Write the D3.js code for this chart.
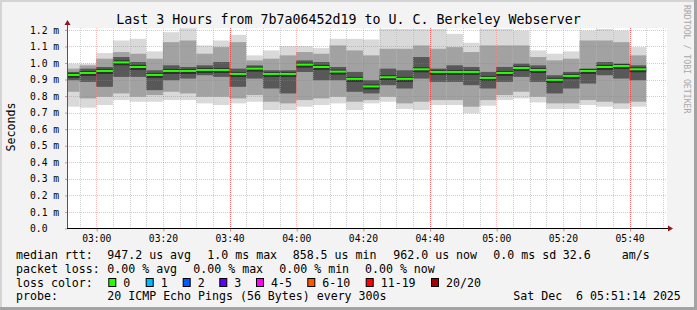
<!DOCTYPE html>
<html><head><meta charset="utf-8">
<script src="https://cdn.jsdelivr.net/npm/d3@7"></script>
<style>
html,body{margin:0;padding:0;background:#f3f3f3;}
svg{display:block;}
text{font-family:"DejaVu Sans Mono",monospace;fill:#000;}
</style></head>
<body>
<svg id="c" width="697" height="310"></svg>
<script>
// ---- data ----
const times = ["02:55","03:00","03:05","03:10","03:15","03:20","03:25","03:30","03:35","03:40",
  "03:45","03:50","03:55","04:00","04:05","04:10","04:15","04:20","04:25","04:30",
  "04:35","04:40","04:45","04:50","04:55","05:00","05:05","05:10","05:15","05:20",
  "05:25","05:30","05:35","05:40","05:45"];
const median = [0.928,0.940,0.952,1.004,0.976,0.928,0.952,0.952,0.958,0.958,
  0.934,0.966,0.934,0.934,0.990,0.976,0.948,0.904,0.8585,0.914,
  0.904,0.962,0.946,0.946,0.946,0.910,0.940,0.970,0.958,0.898,
  0.922,0.952,0.976,0.982,0.962];
const pingMin = [0.736,0.730,0.746,0.776,0.766,0.766,0.776,0.776,0.756,0.746,
  0.756,0.766,0.716,0.716,0.736,0.746,0.756,0.716,0.756,0.766,
  0.722,0.716,0.746,0.746,0.696,0.742,0.776,0.786,0.762,0.722,
  0.722,0.746,0.736,0.722,0.736];
const lowMid = [0.826,0.786,0.796,0.816,0.796,0.806,0.826,0.816,0.796,0.796,
  0.786,0.806,0.766,0.756,0.776,0.786,0.796,0.766,0.776,0.796,
  0.756,0.766,0.776,0.776,0.736,0.776,0.806,0.826,0.796,0.756,
  0.756,0.776,0.766,0.756,0.766];
const lowInner = [0.896,0.886,0.856,0.916,0.916,0.836,0.896,0.906,0.926,0.916,
  0.856,0.906,0.846,0.816,0.946,0.896,0.896,0.826,0.816,0.866,
  0.846,0.906,0.886,0.886,0.866,0.846,0.886,0.916,0.886,0.816,
  0.846,0.876,0.926,0.906,0.896];
const highInner = [0.946,0.966,0.976,1.036,1.006,0.956,0.986,0.976,0.986,1.006,
  0.966,0.986,0.956,0.956,1.016,1.006,0.976,0.946,0.896,0.966,
  0.956,1.036,0.966,0.986,0.976,0.946,0.976,0.996,0.986,0.926,
  0.946,0.966,1.006,0.996,0.986];
const highMid = [0.966,0.986,1.026,1.066,1.056,1.026,1.126,1.136,1.056,1.096,
  1.126,1.016,1.026,1.046,1.066,1.056,1.106,1.076,1.046,1.086,
  1.086,1.106,1.086,1.096,1.066,1.106,1.106,1.106,1.036,1.016,
  1.026,1.136,1.136,1.126,1.046];
const pingMax = [0.996,0.996,1.060,1.136,1.146,1.070,1.186,1.210,1.106,1.136,
  1.170,1.046,1.076,1.102,1.102,1.090,1.146,1.146,1.142,1.206,
  1.206,1.206,1.206,1.176,1.122,1.206,1.206,1.196,1.076,1.056,
  1.070,1.196,1.206,1.196,1.096];
const yTicks = [0,0.1,0.2,0.3,0.4,0.5,0.6,0.7,0.8,0.9,1.0,1.1,1.2];
const hourLines = ["03:40","04:40","05:40"];
const lossLabels = ["0","1","2","3","4-5","6-10","11-19","20/20"];
const lossColors = ["#26ff00","#00b8ff","#0059ff","#5e00ff","#ff00ff","#ff5500","#ff0000","#a10000"];
const title = "Last 3 Hours from 7b7a06452d19 to U. C. Berkeley Webserver";

// ---- layout ----
const svg = d3.select("#c");
const L=67, R=667, T=28, B=228.5;
const tStart = new Date(Date.UTC(2025,11,6,2,51,14));
const tEnd = new Date(Date.UTC(2025,11,6,5,51,14));
const x = d3.scaleUtc().domain([tStart,tEnd]).range([L,R]);
const y = d3.scaleLinear().domain([0,1.2]).range([B,29.9]);
const parseT = s => { const [h,m]=s.split(":").map(Number); return new Date(Date.UTC(2025,11,6,h,m,0)); };

// frame
svg.append("rect").attr("x",0).attr("y",0).attr("width",697).attr("height",310).attr("fill","#f3f3f3");
svg.append("rect").attr("x",0).attr("y",0).attr("width",697).attr("height",2).attr("fill","#d4d4d4");
svg.append("rect").attr("x",0).attr("y",0).attr("width",2).attr("height",310).attr("fill","#d4d4d4");
svg.append("rect").attr("x",694).attr("y",0).attr("width",3).attr("height",310).attr("fill","#a3a3a3");
svg.append("rect").attr("x",0).attr("y",307).attr("width",697).attr("height",3).attr("fill","#a3a3a3");

// plot background
svg.append("rect").attr("x",L).attr("y",T).attr("width",R-L).attr("height",B-T).attr("fill","#ffffff");

svg.append("defs").append("clipPath").attr("id","clip")
  .append("rect").attr("x",L).attr("y",T-1).attr("width",R-L).attr("height",B-T+1);
const gData = svg.append("g").attr("clip-path","url(#clip)");

const bars = times.map((s,i)=>({t:parseT(s),i}));
const bx0 = d => Math.max(L, x(new Date(d.t.getTime()-300000)));
const bx1 = d => x(d.t);

const layers = [
  {lo:pingMin, hi:pingMax, c:"#d9d9d9"},
  {lo:lowMid, hi:highMid, c:"#a2a2a2"},
  {lo:lowInner, hi:highInner, c:"#585858"}
];
layers.forEach(ly=>{
  gData.append("g").selectAll("rect").data(bars).join("rect")
    .attr("x",bx0).attr("width",d=>bx1(d)-bx0(d))
    .attr("y",d=>y(ly.hi[d.i])).attr("height",d=>y(ly.lo[d.i])-y(ly.hi[d.i]))
    .attr("fill",ly.c);
});
// dark core next to median
gData.append("g").selectAll("rect").data(bars).join("rect")
  .attr("x",bx0).attr("width",d=>bx1(d)-bx0(d))
  .attr("y",d=>y(median[d.i])-2).attr("height",5)
  .attr("fill","#303030");
// median
gData.append("g").selectAll("rect").data(bars).join("rect")
  .attr("x",bx0).attr("width",d=>bx1(d)-bx0(d))
  .attr("y",d=>y(median[d.i])-1).attr("height",2)
  .attr("fill",lossColors[0]);

// grid (on top, semi-transparent)
const minor = d3.utcMinute.every(5).range(tStart,tEnd);
const major = minor.filter(d=>d.getUTCMinutes()%20===0);
const strong = hourLines.map(parseT);
const gGrid = svg.append("g");
const px = v => Math.round(v)+0.5;
gGrid.selectAll("line.mn").data(minor.filter(d=>d.getUTCMinutes()%20!==0)).join("line")
  .attr("x1",d=>px(x(d))).attr("x2",d=>px(x(d))).attr("y1",T).attr("y2",B)
  .attr("stroke","rgba(170,170,170,0.55)").attr("stroke-dasharray","1,1");
gGrid.selectAll("line.hz").data(yTicks.slice(1)).join("line")
  .attr("x1",L).attr("x2",R).attr("y1",d=>px(y(d))).attr("y2",d=>px(y(d)))
  .attr("stroke","rgba(230,90,90,0.4)").attr("stroke-dasharray","1,1");
gGrid.selectAll("line.mj").data(major).join("line")
  .attr("x1",d=>px(x(d))).attr("x2",d=>px(x(d))).attr("y1",T).attr("y2",B)
  .attr("stroke","rgba(240,70,70,0.35)").attr("stroke-dasharray","1,1");
gGrid.selectAll("line.hr").data(strong).join("line")
  .attr("x1",d=>px(x(d))).attr("x2",d=>px(x(d))).attr("y1",T).attr("y2",B)
  .attr("stroke","rgba(255,40,40,0.55)").attr("stroke-dasharray","1,1");

// axes
const xAxis = d3.axisBottom(x).tickValues(major).tickFormat(d3.utcFormat("%H:%M")).tickSize(3).tickPadding(4);
const gx = svg.append("g").attr("transform",`translate(0,${B})`).call(xAxis);
gx.select(".domain").remove();
gx.selectAll(".tick line").attr("stroke","rgba(240,60,60,0.6)").attr("transform","translate(0.5,0)");
gx.selectAll(".tick text").attr("font-size","9.7px").attr("font-family","DejaVu Sans Mono").attr("dy",null).attr("y",13.5);

const yAxis = d3.axisLeft(y).tickValues(yTicks).tickFormat(v=> v===0 ? "0.0" : v.toFixed(1)+" m").tickSize(2);
const gy = svg.append("g").attr("transform",`translate(${L},0)`).call(yAxis);
gy.select(".domain").remove();
gy.selectAll(".tick line").attr("stroke","rgba(200,80,80,0.6)");
gy.selectAll(".tick text").attr("font-size","9.7px").attr("font-family","DejaVu Sans Mono")
  .attr("text-anchor","start").attr("x",30-L).attr("dy","0.32em");

// axis lines + arrows
svg.append("line").attr("x1",L+0.5).attr("x2",L+0.5).attr("y1",B).attr("y2",24).attr("stroke","#555").attr("stroke-width",1);
svg.append("line").attr("x1",L).attr("x2",669).attr("y1",B).attr("y2",B).attr("stroke","#000").attr("stroke-width",1);
svg.append("path").attr("d",`M${L-2.5},${25} L${L+3.5},${25} L${L+0.5},${20} Z`).attr("fill","#8b1a1a");
svg.append("path").attr("d",`M668,${B-3} L668,${B+3} L673,${B} Z`).attr("fill","#8b1a1a");

// title
svg.append("text").attr("x",348.5).attr("y",24).attr("text-anchor","middle").attr("font-size","13.3px").text(title);
// y label
svg.append("text").attr("transform","translate(15,127) rotate(-90)").attr("text-anchor","middle").attr("font-size","11.6px").text("Seconds");
// watermark
svg.append("text").attr("transform","translate(683.5,5) rotate(90)").attr("font-size","8.2px").style("fill","#a8a8a8").text("RRDTOOL / TOBI OETIKER");

// legend
const fs = "11.6px";
const put = (tx,xx,yy)=>svg.append("text").attr("x",xx).attr("y",yy).attr("font-size",fs).attr("xml:space","preserve").text(tx);
const r1=258.5, r2=272.5, r3=286.5, r4=300;
put("median rtt:",16,r1); put("947.2 us avg",107.3,r1); put("1.0 ms max",207.3,r1);
put("858.5 us min",292.7,r1); put("962.0 us now",393.3,r1); put("0.0 ms sd",493.3,r1);
put("32.6",562.7,r1); put("am/s",621.7,r1);
put("packet loss:",16,r2); put("0.00 % avg",107.3,r2); put("0.00 % max",193.3,r2);
put("0.00 % min",279.3,r2); put("0.00 % now",365,r2);
put("loss color:",16,r3);
const boxX = [108.3,145.7,182.7,219.3,256,307.3,365.7,431];
lossLabels.forEach((lb,i)=>{
  svg.append("rect").attr("x",boxX[i]+0.5).attr("y",278.5).attr("width",7).attr("height",8)
    .attr("fill",lossColors[i]).attr("stroke","#000").attr("stroke-width",1);
  put(lb,boxX[i]+15,r3);
});
put("probe:",16,r4); put("20 ICMP Echo Pings (56 Bytes) every 300s",107.3,r4);
put("Sat Dec  6 05:51:14 2025",513.3,r4);
</script>
</body></html>
